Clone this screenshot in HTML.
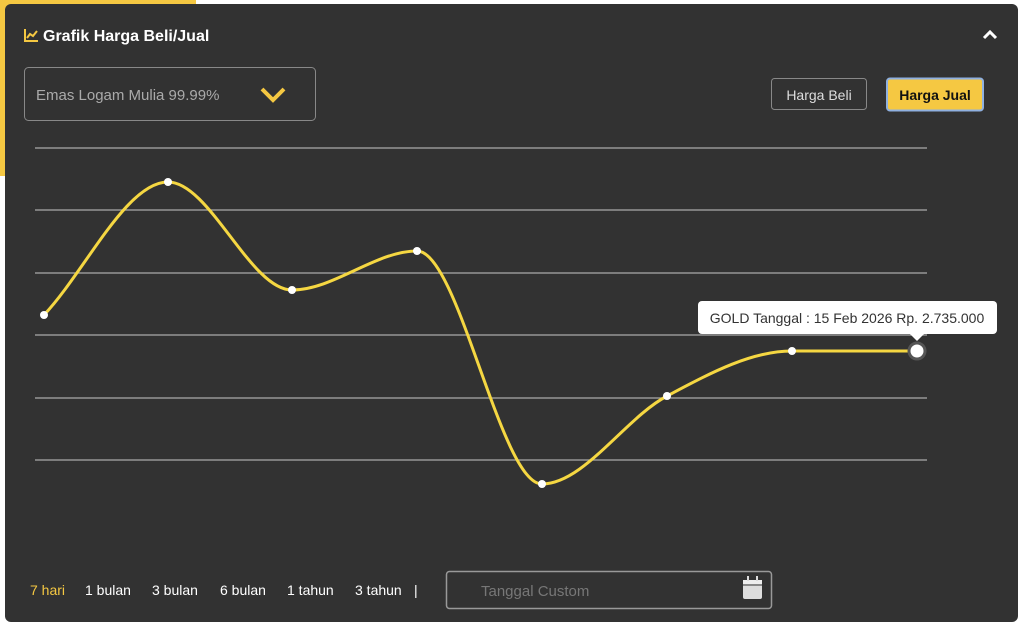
<!DOCTYPE html>
<html><head><meta charset="utf-8"><style>
body{margin:0;width:1024px;height:630px;background:#fff;position:relative;overflow:hidden;font-family:"Liberation Sans",Arial,sans-serif}
.ybar{position:absolute;left:0;top:0;width:196px;height:176px;background:#f5c842}
.card{position:absolute;left:5px;top:4px;width:1013px;height:618px;background:#323232;border-radius:6px}
.t{position:absolute;color:#fff}
</style></head><body>
<div class="ybar"></div>
<div class="card"></div>
<svg style="position:absolute;left:0;top:0" width="1024" height="630">
<g transform="translate(24,28)" fill="none" stroke="#f5c842" stroke-width="2"><path d="M1 1V13H14"/><path d="M3 10L6 6L9 8L13 3"/></g>
<text x="43" y="41" fill="#fff" font-size="16" font-weight="bold" font-family="Liberation Sans,Arial,sans-serif">Grafik Harga Beli/Jual</text>
<path d="M984 38L990 32L996 38" stroke="#fff" stroke-width="3" fill="none"/>
<rect x="24.5" y="67.5" width="291" height="53" rx="4" fill="none" stroke="#888"/>
<text x="36" y="100" fill="#aaa" font-size="15" font-family="Liberation Sans,Arial,sans-serif">Emas Logam Mulia 99.99%</text>
<path d="M262 89L273 100L284 89" stroke="#f5c842" stroke-width="4" fill="none"/>
<rect x="771.5" y="78.5" width="95" height="31" rx="3" fill="none" stroke="#888"/>
<text x="819" y="100" fill="#ddd" font-size="14" text-anchor="middle" font-family="Liberation Sans,Arial,sans-serif">Harga Beli</text>
<rect x="887" y="78.5" width="96" height="32" rx="3" fill="#f5c842" stroke="#8fb0e0" stroke-width="2"/>
<text x="935" y="100" fill="#111" font-size="14" font-weight="bold" text-anchor="middle" font-family="Liberation Sans,Arial,sans-serif">Harga Jual</text>
<g stroke="#aaa" stroke-width="1.2">
<line x1="35" y1="148" x2="927" y2="148"/><line x1="35" y1="210" x2="927" y2="210"/><line x1="35" y1="273" x2="927" y2="273"/><line x1="35" y1="335" x2="927" y2="335"/><line x1="35" y1="398" x2="927" y2="398"/><line x1="35" y1="460" x2="927" y2="460"/>
</g>
<path d="M44,315 C85.6,270.7 126.4,182 168,182 C209.6,182 250.4,290 292,290 C333.6,290 375.4,251 417,251 C458.6,251 500.4,484 542,484 C583.6,484 625.4,418 667,396 C708.6,374 750.4,351 792,351 C833.6,351 875.4,351 917,351" fill="none" stroke="#f5d742" stroke-width="3"/>
<g fill="#fff"><circle cx="44" cy="315" r="4"/><circle cx="168" cy="182" r="4"/><circle cx="292" cy="290" r="4"/><circle cx="417" cy="251" r="4"/><circle cx="542" cy="484" r="4"/><circle cx="667" cy="396" r="4"/><circle cx="792" cy="351" r="4"/></g>
<circle cx="917" cy="351" r="8" fill="#fff" stroke="#555" stroke-width="3"/>
<rect x="698" y="301" width="299" height="33" rx="4" fill="#fff"/>
<path d="M910 334L917 341L924 334Z" fill="#fff"/>
<text x="847" y="323" fill="#333" font-size="14" text-anchor="middle" font-family="Liberation Sans,Arial,sans-serif">GOLD Tanggal : 15 Feb 2026 Rp. 2.735.000</text>
<g font-size="14" font-family="Liberation Sans,Arial,sans-serif" fill="#fff">
<text x="30" y="595" fill="#f5c842">7 hari</text><text x="85" y="595">1 bulan</text><text x="152" y="595">3 bulan</text><text x="220" y="595">6 bulan</text><text x="287" y="595">1 tahun</text><text x="355" y="595">3 tahun</text><text x="414" y="595">|</text>
</g>
<rect x="446.5" y="571.5" width="325" height="37" rx="3" fill="none" stroke="#999" stroke-width="1.5"/>
<text x="481" y="596" fill="#777" font-size="15" font-family="Liberation Sans,Arial,sans-serif">Tanggal Custom</text>
<rect x="743" y="580" width="19" height="19" rx="2" fill="#ddd"/><rect x="743" y="580" width="19" height="4" fill="#eee"/><rect x="747" y="576" width="2" height="5" fill="#ddd"/><rect x="756" y="576" width="2" height="5" fill="#ddd"/><line x1="743" y1="585" x2="762" y2="585" stroke="#323232" stroke-width="1"/>
</svg>
</body></html>
